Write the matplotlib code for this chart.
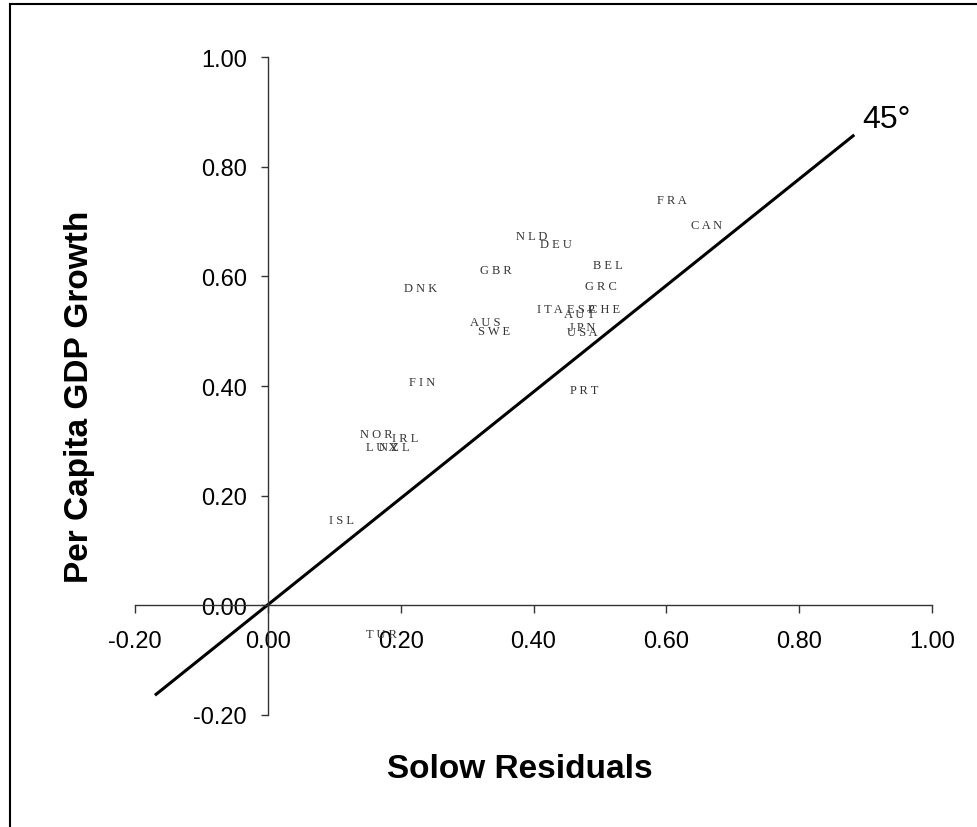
import matplotlib
matplotlib.use("Agg")
import matplotlib.pyplot as plt
from matplotlib.lines import Line2D

# country codes and (solow residual, per capita gdp growth)
countries = ["NLD", "DEU", "GBR", "BEL", "DNK", "GRC", "ITA", "ESP", "CHE", "AUT",
             "AUS", "SWE", "JPN", "USA", "FIN", "PRT", "NOR", "IRL", "LUX", "NZL",
             "ISL", "TUR", "FRA", "CAN"]
solow = [0.397, 0.434, 0.344, 0.512, 0.230, 0.501, 0.424, 0.472, 0.507, 0.469,
         0.327, 0.340, 0.473, 0.474, 0.232, 0.477, 0.163, 0.207, 0.171, 0.191,
         0.111, 0.171, 0.608, 0.661]
growth = [0.673, 0.659, 0.611, 0.620, 0.578, 0.582, 0.540, 0.540, 0.540, 0.531,
          0.516, 0.500, 0.508, 0.499, 0.408, 0.392, 0.312, 0.306, 0.288, 0.288,
          0.155, -0.053, 0.739, 0.693]

# 45 degree reference line end points
line_x = [-0.170, 0.883]
line_y = [-0.164, 0.858]

ticks = [-0.2, 0.0, 0.2, 0.4, 0.6, 0.8, 1.0]
tick_labels = ["%.2f" % t for t in ticks]

plt.rcParams['font.family'] = ['Liberation Sans', 'DejaVu Sans']

W, H = 978, 828
fig = plt.figure(figsize=(W / 100, H / 100), dpi=100)
ax = fig.add_axes([135 / W, (H - 716) / H, (932 - 135) / W, (716 - 58) / H])
ax.set_xlim(-0.2, 1.0)
ax.set_ylim(-0.2, 1.0)

# spines crossing at the origin
ax.spines['left'].set_position(('data', 0.0))
ax.spines['bottom'].set_position(('data', 0.0))
ax.spines['top'].set_visible(False)
ax.spines['right'].set_visible(False)
for s in ['left', 'bottom']:
    ax.spines[s].set_color('#333333')
    ax.spines[s].set_linewidth(1.0)

ax.set_xticks(ticks)
ax.set_xticklabels(tick_labels)
ax.set_yticks(ticks)
ax.set_yticklabels(tick_labels)
ax.tick_params(axis='x', direction='out', length=6, width=1, color='#333333',
               labelsize=17, pad=12)
ax.tick_params(axis='y', direction='out', length=5, width=1, color='#333333',
               labelsize=17, pad=10)
ax.patch.set_visible(False)

# 45 degree line
ax.plot(line_x, line_y, color='black', lw=2.2, solid_capstyle='butt')
ax.text(0.895, 0.873, "45°", fontsize=23, ha='left', va='baseline')

# country labels, letter-spaced like the original
for name, x, y in zip(countries, solow, growth):
    spaced = " ".join(name)
    ax.text(x, y, spaced, fontsize=9, family=['Liberation Serif', 'DejaVu Serif'],
            color='#333333', ha='center', va='center')

# axis titles
fig.text(520 / W, 1 - 770 / H, "Solow Residuals", fontsize=24, fontweight='bold',
         ha='center', va='center')
fig.text(80 / W, 1 - 397 / H, "Per Capita GDP Growth", fontsize=24, fontweight='bold',
         ha='center', va='center', rotation=90)

# outer frame: only top and left edges show
fig.add_artist(Line2D([10 / W, 10 / W], [0, 1 - 5 / H], color='black', lw=1.5))
fig.add_artist(Line2D([10 / W, 1], [1 - 5 / H, 1 - 5 / H], color='black', lw=1.5))

fig.savefig("out.png", dpi=100)
